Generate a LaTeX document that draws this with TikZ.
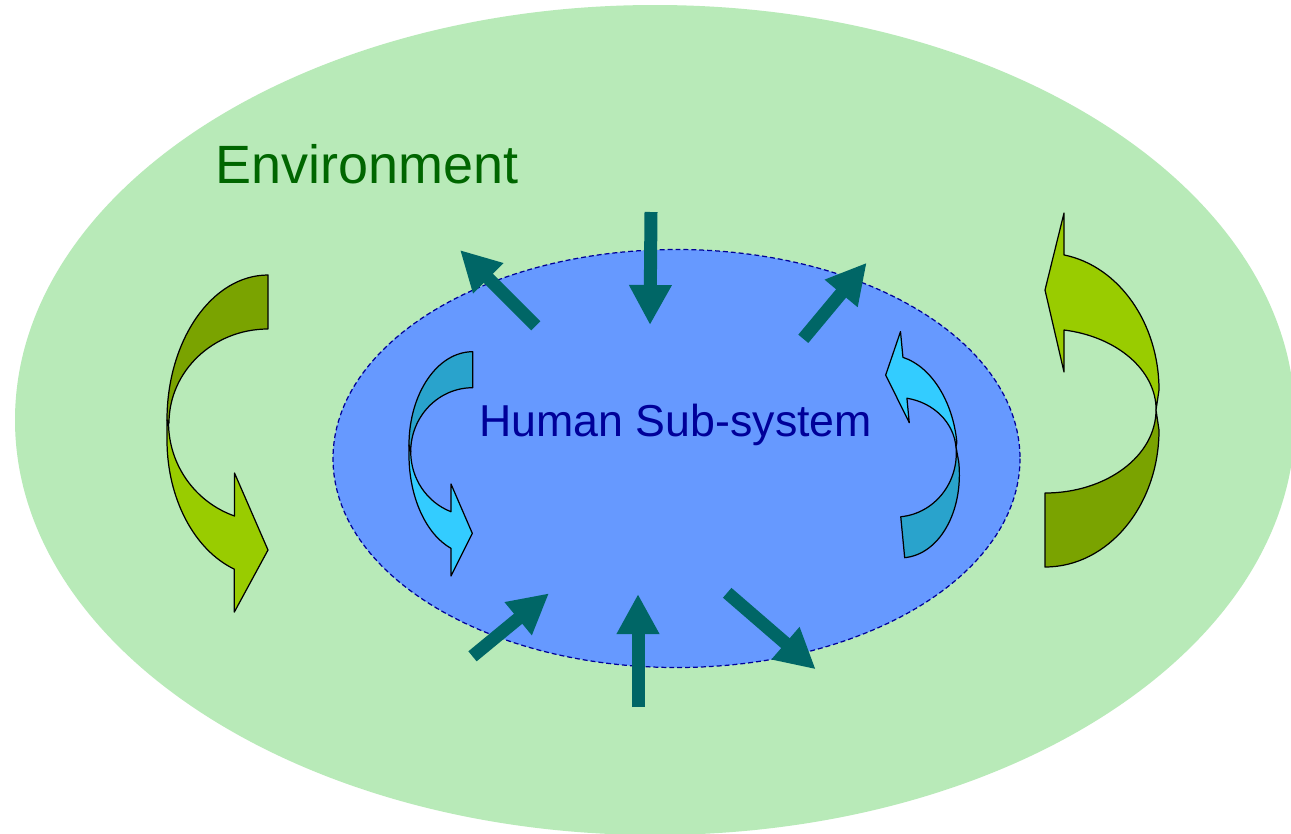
\documentclass[tikz,border=0pt]{standalone}
\usepackage{fontspec}
\setmainfont{Liberation Sans}
\usetikzlibrary{arrows.meta}
\definecolor{envgreen}{RGB}{184,234,184}
\definecolor{envtext}{RGB}{0,102,0}
\definecolor{subblue}{RGB}{102,153,255}
\definecolor{subtext}{RGB}{0,0,153}
\definecolor{flowteal}{RGB}{0,102,102}
\definecolor{leaflight}{RGB}{153,204,0}
\definecolor{leafdark}{RGB}{122,163,0}
\definecolor{skylight}{RGB}{51,204,255}
\definecolor{skydark}{RGB}{41,163,204}
\tikzset{
  flow/.style={draw=flowteal, line width=0.26cm, -{Triangle[width=0.8cm,length=0.8cm]}},
  band/.style={draw=black, line width=0.7pt, line join=round},
  bigfront/.style={band, fill=leaflight},
  bigback/.style={band, fill=leafdark},
  smallfront/.style={band, fill=skylight},
  smallback/.style={band, fill=skydark},
}
\begin{document}
\begin{tikzpicture}[x=0.02cm, y=-0.02cm]
        \useasboundingbox (0,0) rectangle (1291,833);
        \fill[white] (0,0) rectangle (1291,833);
        \fill[envgreen] (655,420) ellipse[x radius=640, y radius=415];
        \filldraw[fill=subblue, draw=subtext, line width=0.7pt, dash pattern=on 2.8pt off 1.7pt] (676.5,458.5) ellipse[x radius=343.5, y radius=209];
        \node[anchor=base west, inner sep=0pt, text=envtext, font=\fontsize{30.7}{36}\selectfont] (env) at (215,183.3) {Environment};
        \node[anchor=base west, inner sep=0pt, text=subtext, font=\fontsize{25.45}{30}\selectfont] (hum) at (479,436.7) {Human Sub-system};

        \draw[bigback] (268,275) arc[start angle=270, end angle=180, x radius=101, y radius=145] -- (169,423) arc[start angle=180, end angle=270, x radius=99, y radius=94] -- cycle;
        \draw[bigfront] (167,420) -- (167,440) arc[start angle=180, end angle=109.5, x radius=101, y radius=137] -- ++(0,43) -- (268,550) -- (234.5,473) -- (234.5,516) arc[start angle=109.5, end angle=180, radius=99] -- cycle;

        \draw[bigback] (1045,567) arc[start angle=90, end angle=0, x radius=114, y radius=137] -- (1156,410) arc[start angle=0, end angle=90, x radius=111, y radius=83] -- cycle;
        \draw[bigfront] (1156,410) -- (1159,390) arc[start angle=0, end angle=-80.4, x radius=114, y radius=137] -- (1064,213) -- (1045,290) -- (1064,372) -- (1064,330) arc[start angle=-80.2, end angle=0, x radius=111, y radius=81] -- cycle;

        \draw[smallback] (472.7,351.7) arc[start angle=270, end angle=180, x radius=63.7, y radius=93.3] -- (410.7,451.7) arc[start angle=180, end angle=270, x radius=62, y radius=64] -- cycle;
        \draw[smallfront] (409,445) -- (409,455) arc[start angle=180, end angle=109.9, x radius=63.7, y radius=99.3] -- ++(0,27.6) -- (472.3,533.3) -- (451,484) -- (451,511.7) arc[start angle=110.5, end angle=180, x radius=62, y radius=64] -- cycle;

        \begin{scope}[rotate around={5.5:(930,445)}]
            \draw[smallback] (894,554.7) arc[start angle=90, end angle=0, x radius=63, y radius=89.7] -- (955.7,449.2) arc[start angle=0, end angle=90, x radius=61.7, y radius=64.4] -- cycle;
            \draw[smallfront] (955.7,449.2) -- (957,445) arc[start angle=0, end angle=-73.9, x radius=63, y radius=93.5] -- (911.5,329.3) -- (892.6,371.1) -- (911.5,420.8) -- (911.5,396.2) arc[start angle=-73.5, end angle=0, x radius=61.7, y radius=55.3] -- cycle;
        \end{scope}

        \coordinate (topin) at (651,212);
        \coordinate (topintip) at (650,325);
        \coordinate (nwout) at (535.8,325.8);
        \coordinate (nwouttip) at (460,250);
        \coordinate (neout) at (803.3,338.8);
        \coordinate (neouttip) at (866.7,262.7);
        \coordinate (swin) at (472.5,656.3);
        \coordinate (swintip) at (549,593.3);
        \coordinate (botin) at (638,707);
        \coordinate (bointip) at (638,594);
        \coordinate (seout) at (727.2,592.8);
        \coordinate (seouttip) at (815.7,669.3);
        \draw[flow] (topin) -- (topintip);
        \draw[flow] (nwout) -- (nwouttip);
        \draw[flow] (neout) -- (neouttip);
        \draw[flow] (swin) -- (swintip);
        \draw[flow] (botin) -- (bointip);
        \draw[flow] (seout) -- (seouttip);
    \end{tikzpicture}
\end{document}
